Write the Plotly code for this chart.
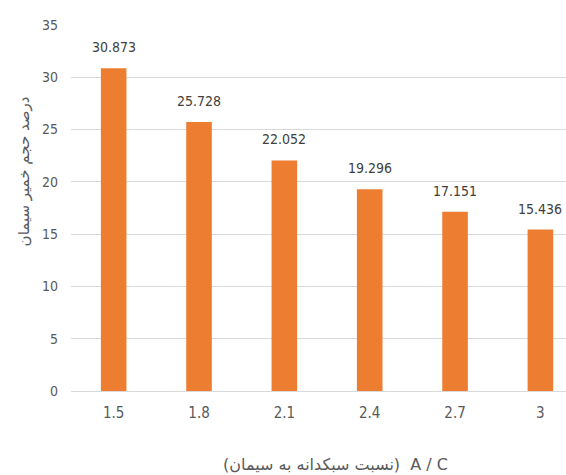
import plotly.graph_objects as go

# A/C ratios and cement paste volume percentages
ratios = ["1.5", "1.8", "2.1", "2.4", "2.7", "3"]
paste_pct = [30.873, 25.728, 22.052, 19.296, 17.151, 15.436]
y_ticks = [0, 5, 10, 15, 20, 25, 30, 35]

bar_color = "#ED7D31"
text_color = "#595959"
num_font = "DejaVu Sans Condensed, Liberation Sans Narrow, sans-serif"

fig = go.Figure(
    go.Bar(
        x=ratios,
        y=paste_pct,
        marker=dict(color=bar_color, line=dict(width=0)),
        width=0.3,
        hoverinfo="skip",
    )
)

# value labels above each bar (category index positions)
for i, v in enumerate(paste_pct):
    fig.add_annotation(
        x=i, y=v, text=f"{v:.3f}", showarrow=False,
        yanchor="bottom", yshift=11,
        font=dict(family=num_font, size=14, color="#404040"),
    )

# axis titles
fig.add_annotation(
    xref="paper", yref="paper", x=0.535, y=-0.2,
    text="(نسبت سبکدانه به سیمان)  A / C",
    showarrow=False, xanchor="center", yanchor="middle",
    font=dict(family="DejaVu Sans", size=16, color=text_color),
)
fig.add_annotation(
    xref="paper", yref="paper", x=-0.095, y=0.6,
    text="درصد حجم خمیر سیمان", textangle=-90,
    showarrow=False, xanchor="center", yanchor="middle",
    font=dict(family="DejaVu Sans", size=15, color=text_color),
)

fig.update_layout(
    width=566, height=475,
    margin=dict(l=71, r=0, t=25, b=84),
    paper_bgcolor="white", plot_bgcolor="white",
    showlegend=False,
    xaxis=dict(
        type="category", range=[-0.5, 5.3],
        showgrid=False, showline=True, linecolor="#D9D9D9", linewidth=1,
        ticks="", tickfont=dict(family=num_font, size=15, color=text_color),
        ticklabelstandoff=8,
    ),
    yaxis=dict(
        range=[0, 35], tickvals=y_ticks, showline=False,
        showgrid=True, gridcolor="#D9D9D9", gridwidth=1,
        zeroline=False, ticks="",
        tickfont=dict(family=num_font, size=14, color=text_color),
        ticklabelstandoff=12,
    ),
)

fig.write_html("out.html")
